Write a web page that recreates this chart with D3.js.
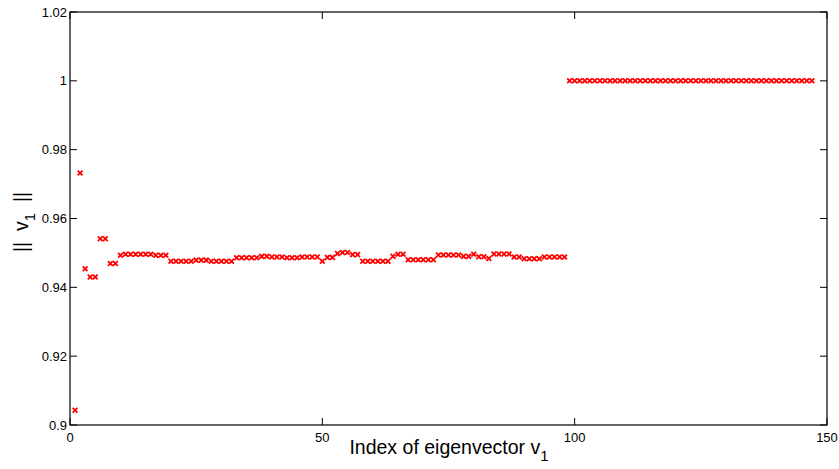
<!DOCTYPE html>
<html>
<head>
<meta charset="utf-8">
<script src="https://cdn.jsdelivr.net/npm/d3@7"></script>
<style>
  body { margin: 0; background: #fff; }
  svg { display: block; font-family: "Liberation Sans", Arial, sans-serif; }
  text { white-space: pre; }
</style>
</head>
<body>
<svg id="chart" width="839" height="469"></svg>
<script>
// norms of the first 98 eigenvectors (index 1..98)
const normsLow = [
  0.9043, 0.9732, 0.9454, 0.9430, 0.9430, 0.9541, 0.9541, 0.9469, 0.9469, 0.9493,
  0.9496, 0.9496, 0.9496, 0.9496, 0.9496, 0.9496, 0.9493, 0.9493, 0.9493, 0.9476,
  0.9476, 0.9476, 0.9476, 0.9476, 0.9479, 0.9479, 0.9479, 0.9476, 0.9476, 0.9476,
  0.9476, 0.9476, 0.9486, 0.9486, 0.9486, 0.9486, 0.9486, 0.9490, 0.9490, 0.9488,
  0.9488, 0.9488, 0.9486, 0.9486, 0.9486, 0.9488, 0.9488, 0.9488, 0.9488, 0.9476,
  0.9487, 0.9487, 0.9498, 0.9501, 0.9501, 0.9495, 0.9495, 0.9476, 0.9476, 0.9476,
  0.9476, 0.9476, 0.9476, 0.9490, 0.9496, 0.9496, 0.9480, 0.9480, 0.9480, 0.9480,
  0.9480, 0.9480, 0.9494, 0.9494, 0.9494, 0.9494, 0.9494, 0.9490, 0.9490, 0.9496,
  0.9489, 0.9489, 0.9484, 0.9497, 0.9497, 0.9497, 0.9497, 0.9488, 0.9488, 0.9483,
  0.9483, 0.9483, 0.9483, 0.9488, 0.9488, 0.9488, 0.9488, 0.9488
];
// norms of eigenvectors 99..147
const normsHigh = [
  1, 1, 1, 1, 1, 1, 1, 1, 1, 1,
  1, 1, 1, 1, 1, 1, 1, 1, 1, 1,
  1, 1, 1, 1, 1, 1, 1, 1, 1, 1,
  1, 1, 1, 1, 1, 1, 1, 1, 1, 1,
  1, 1, 1, 1, 1, 1, 1, 1, 1
];
const xTicks = [0, 50, 100, 150];
const yTicks = [0.9, 0.92, 0.94, 0.96, 0.98, 1, 1.02];
const yTickLabels = ['0.9', '0.92', '0.94', '0.96', '0.98', '1', '1.02'];

const points = normsLow.concat(normsHigh).map((v, i) => ({ idx: i + 1, v: v }));

const svg = d3.select('#chart');
const plotL = 70, plotR = 827, plotT = 12, plotB = 425;

const x = d3.scaleLinear().domain([0, 150]).range([plotL, plotR]);
const y = d3.scaleLinear().domain([0.9, 1.02]).range([plotB, plotT]);

// frame
svg.append('rect')
  .attr('x', plotL).attr('y', plotT)
  .attr('width', plotR - plotL).attr('height', plotB - plotT)
  .attr('fill', 'none').attr('stroke', '#000').attr('stroke-width', 1.2);

const tickLen = 7;
// x ticks (bottom and top, inward)
xTicks.forEach((t) => {
  svg.append('line').attr('x1', x(t)).attr('x2', x(t)).attr('y1', plotB).attr('y2', plotB - tickLen)
    .attr('stroke', '#000');
  svg.append('line').attr('x1', x(t)).attr('x2', x(t)).attr('y1', plotT).attr('y2', plotT + tickLen)
    .attr('stroke', '#000');
  svg.append('text').attr('x', x(t)).attr('y', plotB + 17)
    .attr('text-anchor', 'middle').attr('font-size', 13).text(t);
});

// y ticks (left and right, inward)
yTicks.forEach((t, i) => {
  svg.append('line').attr('x1', plotL).attr('x2', plotL + tickLen).attr('y1', y(t)).attr('y2', y(t))
    .attr('stroke', '#000');
  svg.append('line').attr('x1', plotR).attr('x2', plotR - tickLen).attr('y1', y(t)).attr('y2', y(t))
    .attr('stroke', '#000');
  svg.append('text').attr('x', plotL - 3).attr('y', y(t) + 4.5)
    .attr('text-anchor', 'end').attr('font-size', 13).text(yTickLabels[i]);
});

// markers
const s = 2.4;
svg.append('g').selectAll('path').data(points).join('path')
  .attr('d', (d) => {
    const cx = x(d.idx), cy = y(d.v);
    return `M${cx - s},${cy - s}L${cx + s},${cy + s}M${cx - s},${cy + s}L${cx + s},${cy - s}`;
  })
  .attr('stroke', '#ff0000').attr('stroke-width', 1.8).attr('fill', 'none');

// axis labels
const xl = svg.append('text').attr('x', 449).attr('y', 454)
  .attr('text-anchor', 'middle').attr('font-size', 19.5);
xl.append('tspan').text('Index of eigenvector v');
xl.append('tspan').attr('dy', 7).attr('font-size', 15).text('1');

const yl = svg.append('text')
  .attr('transform', 'translate(28,222) rotate(-90)')
  .attr('text-anchor', 'middle').attr('font-size', 19.5);
yl.append('tspan').text('||  v');
yl.append('tspan').attr('dy', 7).attr('font-size', 15).text('1');
yl.append('tspan').attr('dy', -7).text('  ||');
</script>
</body>
</html>
